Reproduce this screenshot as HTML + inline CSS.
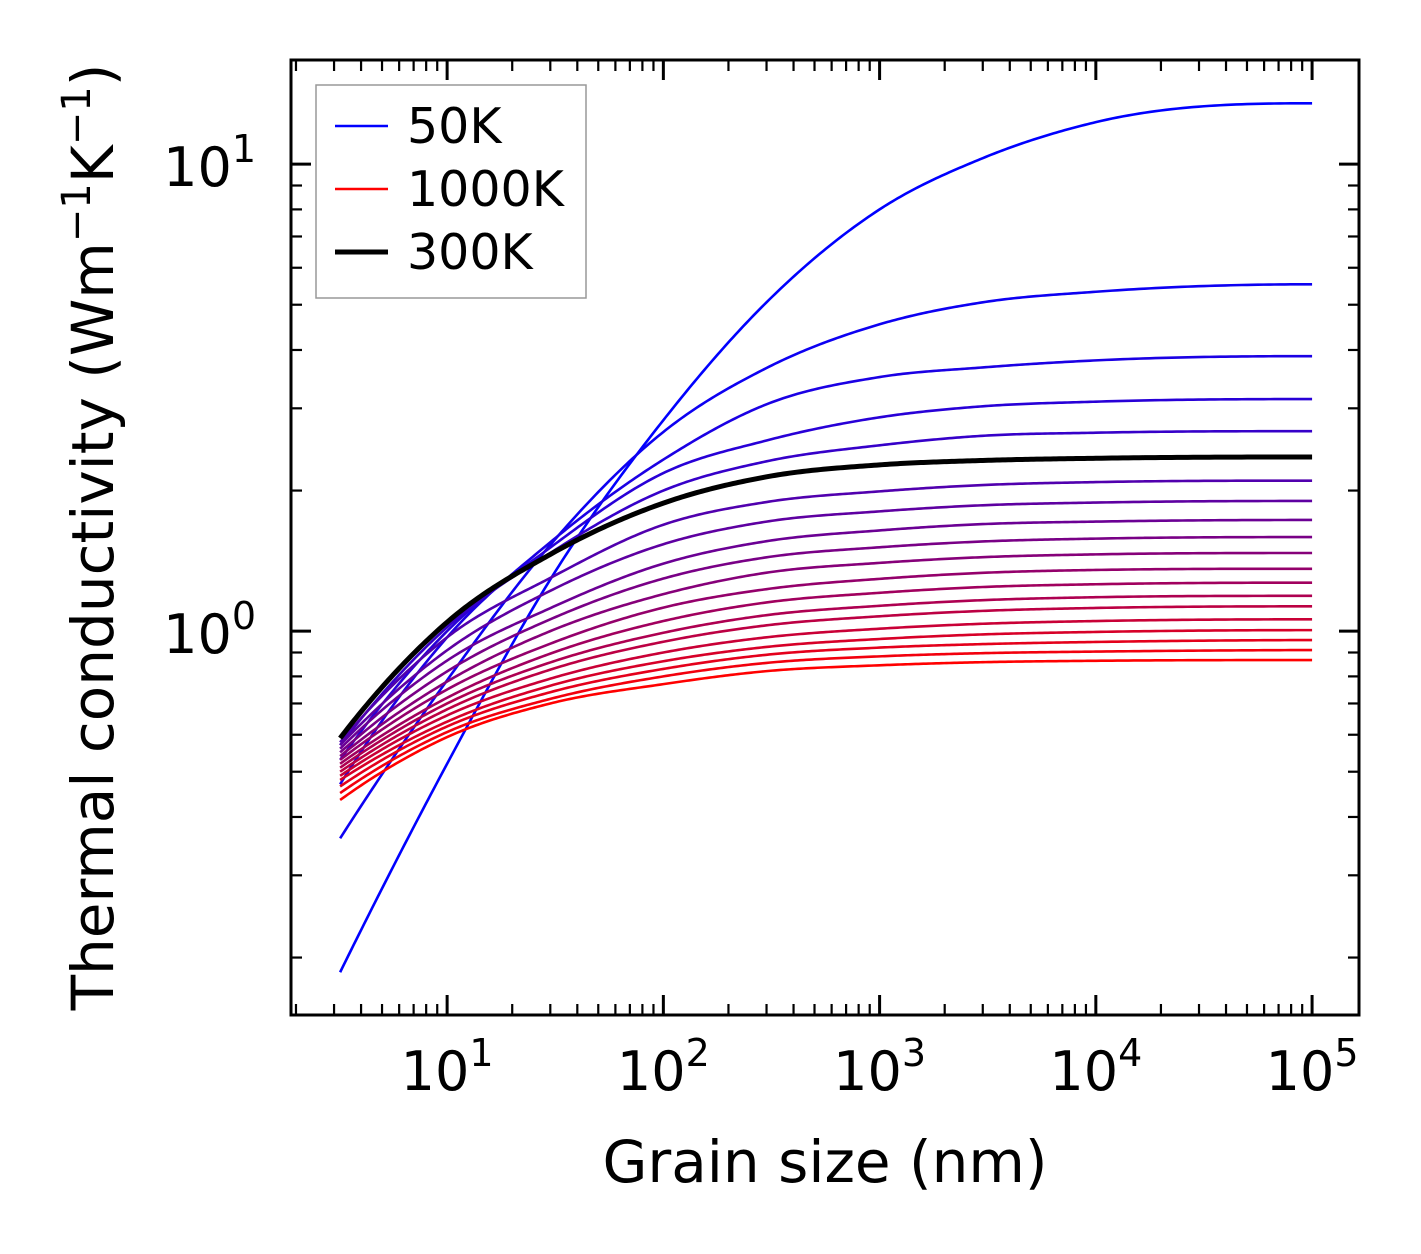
<!DOCTYPE html>
<html><head><meta charset="utf-8"><style>
html,body{margin:0;padding:0;background:#fff;}
svg{display:block;font-family:"DejaVu Sans","Liberation Sans",sans-serif;}
</style></head><body>
<svg id="chart" width="1421" height="1254" viewBox="0 0 1421 1254">
<g id="grid-ticks"></g>
<g id="series"></g>
<rect x="291" y="60" width="1068" height="955" fill="none" stroke="#000" stroke-width="3"/>
<g id="labels"></g>
<text x="825" y="1182" font-size="58" text-anchor="middle">Grain size (nm)</text>
<text transform="translate(113,537) rotate(-90)" font-size="58" text-anchor="middle">Thermal conductivity (Wm<tspan font-size="40" dy="-23">−1</tspan><tspan dy="23">K</tspan><tspan font-size="40" dy="-23">−1</tspan><tspan dy="23">)</tspan></text>
<g>
<rect x="316" y="85" width="270" height="213" fill="#fff" stroke="#999" stroke-width="1.5"/>
<g><line x1="335" y1="126" x2="388" y2="126" stroke="#0000ff" stroke-width="2.5"/><text x="407" y="143" font-size="49">50K</text></g>
<g><line x1="335" y1="189" x2="388" y2="189" stroke="#ff0000" stroke-width="2.5"/><text x="407" y="206" font-size="49">1000K</text></g>
<g><line x1="335" y1="252" x2="388" y2="252" stroke="#000" stroke-width="5"/><text x="407" y="269" font-size="49">300K</text></g>
</g>
</svg>
<script>
const grainSizes = [3.2, 10, 30, 100, 300, 1000, 3000, 10000, 100000];
const temperatures = [50,100,150,200,250,300,350,400,450,500,550,600,650,700,750,800,850,900,950,1000];
const k50 = [0.186, 0.52, 1.29, 2.83, 5.06, 8.0, 10.3, 12.3, 13.5];
const k100 = [0.36, 0.785, 1.53, 2.67, 3.66, 4.54, 5.06, 5.33, 5.53];
const k150 = [0.47, 0.97, 1.55, 2.33, 3.06, 3.50, 3.67, 3.80, 3.88];
const k200 = [0.53, 1.0, 1.51, 2.18, 2.56, 2.87, 3.03, 3.10, 3.14];
const k250 = [0.57, 1.02, 1.47, 2.00, 2.31, 2.50, 2.62, 2.66, 2.68];
const k300 = [0.59, 1.045, 1.46, 1.88, 2.14, 2.27, 2.32, 2.345, 2.36];
const k350 = [0.578, 0.97, 1.30, 1.69, 1.89, 1.992, 2.055, 2.085, 2.10];
const k400 = [0.57, 0.91, 1.22, 1.535, 1.716, 1.805, 1.86, 1.885, 1.90];
const k450 = [0.56, 0.865, 1.12, 1.395, 1.558, 1.643, 1.695, 1.716, 1.73];
const k500 = [0.55, 0.82, 1.06, 1.296, 1.439, 1.512, 1.556, 1.578, 1.59];
const k550 = [0.54, 0.78, 1.00, 1.20, 1.334, 1.40, 1.44, 1.46, 1.47];
const k600 = [0.53, 0.75, 0.94, 1.123, 1.23, 1.294, 1.333, 1.352, 1.36];
const k650 = [0.52, 0.72, 0.895, 1.051, 1.152, 1.208, 1.243, 1.26, 1.27];
const k700 = [0.51, 0.70, 0.857, 0.992, 1.082, 1.133, 1.165, 1.182, 1.19];
const k750 = [0.50, 0.68, 0.827, 0.949, 1.029, 1.076, 1.105, 1.121, 1.13];
const k800 = [0.49, 0.66, 0.791, 0.90, 0.97, 1.012, 1.037, 1.051, 1.06];
const k850 = [0.48, 0.64, 0.764, 0.862, 0.925, 0.962, 0.984, 0.996, 1.005];
const k900 = [0.465, 0.625, 0.74, 0.83, 0.89, 0.922, 0.938, 0.948, 0.957];
const k950 = [0.45, 0.608, 0.716, 0.80, 0.855, 0.883, 0.897, 0.904, 0.911];
const k1000 = [0.435, 0.593, 0.70, 0.77, 0.821, 0.845, 0.858, 0.864, 0.867];
const allSeries = [k50,k100,k150,k200,k250,k300,k350,k400,k450,k500,k550,k600,k650,k700,k750,k800,k850,k900,k950,k1000];
const xTickExps = [1,2,3,4,5];
const yTickExps = [0,1];

const NS = "http://www.w3.org/2000/svg";
const PX0 = 291, PX1 = 1359, PY0 = 60, PY1 = 1015;
const XL0 = 0.278, XL1 = 5.217, YL0 = -0.822, YL1 = 1.223;
function xs(v){ return PX0 + (Math.log10(v) - XL0) / (XL1 - XL0) * (PX1 - PX0); }
function ys(v){ return PY1 - (Math.log10(v) - YL0) / (YL1 - YL0) * (PY1 - PY0); }
function mk(tag, attrs, parent){ const e = document.createElementNS(NS, tag); for (const k in attrs) e.setAttribute(k, attrs[k]); parent.appendChild(e); return e; }

const tg = document.getElementById('grid-ticks');
for (let e = 0; e <= 5; e++) {
  for (let m = 1; m <= 9; m++) {
    const v = m * Math.pow(10, e); const lg = Math.log10(v);
    if (lg < XL0 || lg > XL1) continue;
    const x = xs(v); const len = m === 1 ? 20 : 11; const w = m === 1 ? 3 : 2.2;
    const t1 = mk('line', {x1:x, y1:PY1, x2:x, y2:PY1-len, stroke:'#000', 'stroke-width':w}, tg);
    
    
    const t2 = mk('line', {x1:x, y1:PY0, x2:x, y2:PY0+len, stroke:'#000', 'stroke-width':w}, tg);
    
    
  }
}
for (let e = -1; e <= 1; e++) {
  for (let m = 1; m <= 9; m++) {
    const v = m * Math.pow(10, e); const lg = Math.log10(v);
    if (lg < YL0 || lg > YL1) continue;
    const y = ys(v); const len = m === 1 ? 20 : 11; const w = m === 1 ? 3 : 2.2;
    const t1 = mk('line', {x1:PX0, y1:y, x2:PX0+len, y2:y, stroke:'#000', 'stroke-width':w}, tg);
    
    
    const t2 = mk('line', {x1:PX1, y1:y, x2:PX1-len, y2:y, stroke:'#000', 'stroke-width':w}, tg);
    
    
  }
}
const lg2 = document.getElementById('labels');
xTickExps.forEach(e => {
  const t = mk('text', {x: xs(Math.pow(10,e)), y: 1090, 'font-size': 54, 'text-anchor': 'middle'}, lg2);
  
  
  t.innerHTML = '10<tspan font-size="38" dy="-24">' + e + '</tspan>';
});
yTickExps.forEach(e => {
  const t = mk('text', {x: 256, y: ys(Math.pow(10,e)) + 22, 'font-size': 54, 'text-anchor': 'end'}, lg2);
  
  
  t.innerHTML = '10<tspan font-size="38" dy="-24">' + e + '</tspan>';
});

function monotonePath(xv, yv){
  const X = xv.map(v => Math.log10(v)), Y = yv.map(v => Math.log10(v));
  const n = X.length, d = [], h = [], m = new Array(n);
  for (let i = 0; i < n-1; i++) { h.push(X[i+1]-X[i]); d.push((Y[i+1]-Y[i])/h[i]); }
  m[0] = ((2*h[0]+h[1])*d[0] - h[0]*d[1]) / (h[0]+h[1]);
  if (m[0]*d[0] <= 0) m[0] = 0;
  m[n-1] = ((2*h[n-2]+h[n-3])*d[n-2] - h[n-2]*d[n-3]) / (h[n-2]+h[n-3]);
  if (m[n-1]*d[n-2] <= 0) m[n-1] = 0;
  for (let i = 1; i < n-1; i++) m[i] = (d[i-1]*d[i] <= 0) ? 0 : (h[i]*d[i-1] + h[i-1]*d[i])/(h[i-1]+h[i]);
  for (let i = 0; i < n-1; i++) {
    if (d[i] === 0) { m[i] = 0; m[i+1] = 0; continue; }
    const a = m[i]/d[i], b = m[i+1]/d[i], s = a*a + b*b;
    if (s > 9) { const t = 3/Math.sqrt(s); m[i] = t*a*d[i]; m[i+1] = t*b*d[i]; }
  }
  let p = '';
  for (let i = 0; i < n-1; i++) {
    const hh = h[i];
    for (let k = 0; k <= 40; k++) {
      if (i > 0 && k === 0) continue;
      const t = k/40, t2 = t*t, t3 = t2*t;
      const yy = (2*t3-3*t2+1)*Y[i] + (t3-2*t2+t)*hh*m[i] + (-2*t3+3*t2)*Y[i+1] + (t3-t2)*hh*m[i+1];
      const px = xs(Math.pow(10, X[i] + t*hh)), py = ys(Math.pow(10, yy));
      p += (p ? 'L' : 'M') + px.toFixed(2) + ',' + py.toFixed(2);
    }
  }
  return p;
}
const sg = document.getElementById('series');
let blackPath = null;
allSeries.forEach((vals, i) => {
  const f = i / (allSeries.length - 1);
  const col = 'rgb(' + Math.round(255*f) + ',0,' + Math.round(255*(1-f)) + ')';
  const isBlack = temperatures[i] === 300;
  const p = mk('path', {d: monotonePath(grainSizes, vals), fill: 'none', stroke: isBlack ? '#000' : col, 'stroke-width': isBlack ? 5 : 2.6, 'stroke-linejoin': 'round'}, sg);
  
  
  if (isBlack) blackPath = p;
});
if (blackPath) sg.appendChild(blackPath);
</script>
</body></html>
